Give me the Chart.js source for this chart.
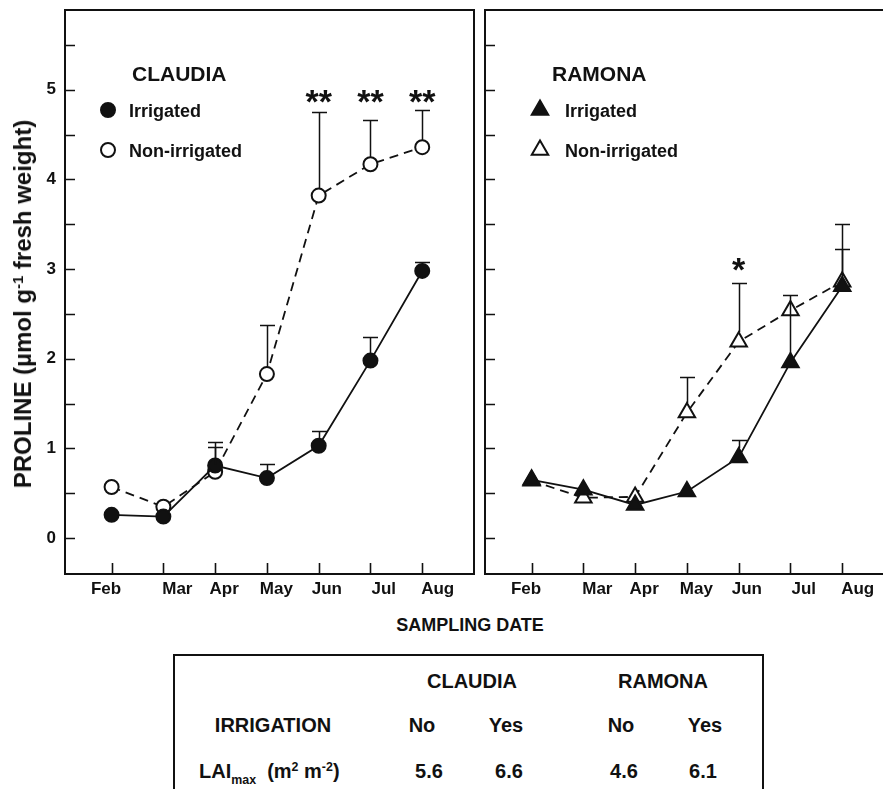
<!DOCTYPE html>
<html>
<head>
<meta charset="utf-8">
<script src="https://cdn.jsdelivr.net/npm/chart.js@4.4.0/dist/chart.umd.min.js"></script>
<style>
  html, body { margin: 0; padding: 0; width: 883px; height: 789px; overflow: hidden; background: #fff; }
  body { position: relative; font-family: 'Liberation Sans', Arial, Helvetica, sans-serif; font-weight: bold; color: #111; }
  canvas { position: absolute; top: 0; }
  #claudia { left: 0; }
  #ramona { left: 480px; }
  .ytitle { position: absolute; left: 23px; top: 304px; transform: translate(-50%, -50%) rotate(-90deg); white-space: nowrap; font-size: 24px; }
  .xtitle { position: absolute; left: 470px; top: 625px; transform: translate(-50%, -50%); white-space: nowrap; font-size: 18px; }
  .lai { position: absolute; left: 173px; top: 654px; width: 587px; height: 200px; border: 2px solid #111; }
  .cell { position: absolute; transform: translate(-50%, -50%); white-space: nowrap; font-size: 20px; }
  .cell.left { transform: translate(0, -50%); }
  sup { font-size: 0.62em; vertical-align: 0; position: relative; top: -0.55em; }
  sub { font-size: 0.62em; vertical-align: 0; position: relative; top: 0.45em; }
</style>
</head>
<body>
<canvas id="claudia" width="480" height="610"></canvas>
<canvas id="ramona" width="420" height="610"></canvas>
<div class="ytitle">PROLINE (&micro;mol g<sup>-1</sup> fresh weight)</div>
<div class="xtitle">SAMPLING DATE</div>
<div class="lai" id="lai"></div>
<script>
// Sampling months (one sample per month, evenly spaced on the axis)
const months = ['Feb', 'Mar', 'Apr', 'May', 'Jun', 'Jul', 'Aug'];
const yTickLabels = [0, 1, 2, 3, 4, 5];

// Proline content, µmol g-1 fresh weight
const claudiaIrrigated = [0.26, 0.24, 0.81, 0.67, 1.03, 1.98, 2.98];
const claudiaIrrigatedUpper = [null, null, 1.07, 0.83, 1.20, 2.24, 3.08];
const claudiaNonIrrigated = [0.57, 0.35, 0.74, 1.83, 3.82, 4.17, 4.36];
const claudiaNonIrrigatedUpper = [null, null, 1.02, 2.38, 4.75, 4.66, 4.78];
const claudiaSignificance = ['', '', '', '', '**', '**', '**'];

const ramonaIrrigated = [0.65, 0.54, 0.37, 0.52, 0.90, 1.96, 2.81];
const ramonaIrrigatedUpper = [null, null, null, 0.62, 1.09, 2.71, 3.23];
const ramonaNonIrrigated = [0.64, 0.45, 0.46, 1.40, 2.19, 2.54, 2.86];
const ramonaNonIrrigatedUpper = [null, null, null, 1.80, 2.84, null, 3.50];
const ramonaSignificance = ['', '', '', '', '*', '', ''];

// Maximum leaf area index table
const laiCultivars = ['CLAUDIA', 'RAMONA'];
const laiIrrigation = ['No', 'Yes', 'No', 'Yes'];
const laiMax = [5.6, 6.6, 4.6, 6.1];

const FONT = "'Liberation Sans', Arial, Helvetica, sans-serif";
const INK = '#111';

function points(values) {
  return values.map((v, i) => ({ x: i, y: v }));
}

// Frame, inward ticks, month labels, in-panel legend, error bars and stars
const panelDecor = {
  id: 'panelDecor',
  afterDatasetsDraw(chart, args, o) {
    const ctx = chart.ctx, xs = chart.scales.x, ys = chart.scales.y;
    ctx.save();
    ctx.strokeStyle = INK;
    ctx.lineWidth = 1.5;
    o.bars.forEach(b => {
      b.upper.forEach((u, i) => {
        if (u == null) return;
        const x = Math.round(xs.getPixelForValue(i)) + 0.5;
        const y0 = ys.getPixelForValue(b.values[i]) - b.gap;
        const y1 = Math.round(ys.getPixelForValue(u)) + 0.5;
        if (y1 >= y0) return;
        ctx.beginPath();
        ctx.moveTo(x, y0); ctx.lineTo(x, y1);
        ctx.moveTo(x - 7.5, y1); ctx.lineTo(x + 7.5, y1);
        ctx.stroke();
      });
    });
    // significance marks sit together above the tallest bar of their group
    const s = o.stars;
    let top = Infinity;
    s.marks.forEach((m, i) => { if (m && s.upper[i] != null) top = Math.min(top, ys.getPixelForValue(s.upper[i])); });
    ctx.fillStyle = INK;
    ctx.font = `bold 34px ${FONT}`;
    ctx.textAlign = 'center';
    ctx.textBaseline = 'alphabetic';
    s.marks.forEach((m, i) => {
      if (!m) return;
      ctx.fillText(m, xs.getPixelForValue(i), top + s.gap);
    });
    ctx.restore();
  },
  afterDraw(chart, args, o) {
    const ctx = chart.ctx, ca = chart.chartArea, xs = chart.scales.x, ys = chart.scales.y;
    ctx.save();
    ctx.strokeStyle = INK;
    ctx.lineWidth = 2;
    ctx.strokeRect(ca.left, ca.top, ca.right - ca.left, ca.bottom - ca.top);
    // inward y ticks every 0.5
    ctx.lineWidth = 1.6;
    ctx.beginPath();
    for (let v = 0; v <= 5.5 + 1e-9; v += 0.5) {
      const y = Math.round(ys.getPixelForValue(v)) + 0.5;
      ctx.moveTo(ca.left, y); ctx.lineTo(ca.left + 10, y);
    }
    // inward x ticks at every sampling month
    months.forEach((m, i) => {
      const x = Math.round(xs.getPixelForValue(i)) + 0.5;
      ctx.moveTo(x, ca.bottom); ctx.lineTo(x, ca.bottom - 11);
    });
    ctx.stroke();
    // month labels
    ctx.fillStyle = INK;
    ctx.font = `bold 17px ${FONT}`;
    ctx.textAlign = 'center';
    ctx.textBaseline = 'middle';
    months.forEach((m, i) => {
      ctx.fillText(m, xs.getPixelForValue(i) + o.labelShift[i], ca.bottom + 15);
    });
    // legend
    const lg = o.legend;
    ctx.textAlign = 'left';
    ctx.font = `bold 21px ${FONT}`;
    ctx.fillText(lg.title, ca.left + lg.titleX, lg.titleY);
    ctx.font = `bold 18px ${FONT}`;
    chart.data.datasets.forEach((ds, k) => {
      const y = lg.firstY + k * lg.rowGap;
      ctx.fillStyle = ds.pointBackgroundColor;
      ctx.strokeStyle = ds.pointBorderColor;
      ctx.lineWidth = ds.pointBorderWidth;
      Chart.helpers.drawPoint(ctx, { pointStyle: ds.pointStyle, radius: ds.pointRadius, rotation: 0, borderWidth: ds.pointBorderWidth }, ca.left + lg.markerX, y);
      ctx.fillStyle = INK;
      ctx.fillText(ds.label, ca.left + lg.textX, y + 2);
    });
    ctx.restore();
  }
};

function makePanel(id, cfg) {
  const series = (label, values, open, style, radius) => ({
    label,
    data: points(values),
    borderColor: INK,
    borderWidth: 1.8,
    borderDash: open ? [9, 6] : [],
    pointStyle: style,
    pointRadius: radius,
    pointBackgroundColor: open ? '#fff' : INK,
    pointBorderColor: INK,
    pointBorderWidth: 2,
    tension: 0
  });
  const noPad = s => { s.paddingTop = 0; s.paddingBottom = 0; s.paddingLeft = 0; s.paddingRight = 0; };
  return new Chart(document.getElementById(id), {
    type: 'line',
    data: {
      datasets: [
        series('Irrigated', cfg.irrigated, false, cfg.style, cfg.radius),
        series('Non-irrigated', cfg.nonIrrigated, true, cfg.style, cfg.radius)
      ]
    },
    options: {
      responsive: false,
      animation: false,
      events: [],
      layout: { autoPadding: false, padding: { top: 10, right: 6, left: 0, bottom: 0 } },
      scales: {
        x: {
          type: 'linear', min: -0.9, max: 7.0,
          grid: { display: false, drawTicks: false }, border: { display: false },
          ticks: { display: false },
          afterFit: s => { s.height = 36; noPad(s); }
        },
        y: {
          type: 'linear', min: -0.4, max: 5.89,
          grid: { display: false, drawTicks: false }, border: { display: false },
          afterBuildTicks: s => { s.ticks = yTickLabels.map(v => ({ value: v })); },
          ticks: {
            display: cfg.showY,
            padding: 9,
            color: INK,
            font: { family: FONT, size: 17, weight: 'bold' },
            callback: v => String(v)
          },
          afterFit: s => { s.width = cfg.axisWidth; noPad(s); }
        }
      },
      plugins: {
        legend: { display: false },
        tooltip: { enabled: false },
        panelDecor: {
          labelShift: [-5.5, 14, 9, 9.4, 8.2, 13.3, 15.5],
          legend: cfg.legend,
          bars: [
            { values: cfg.irrigated, upper: cfg.irrigatedUpper, gap: cfg.radius },
            { values: cfg.nonIrrigated, upper: cfg.nonIrrigatedUpper, gap: cfg.radius }
          ],
          stars: { marks: cfg.significance, upper: cfg.nonIrrigatedUpper, gap: cfg.starGap }
        }
      }
    },
    plugins: [panelDecor]
  });
}

makePanel('claudia', {
  irrigated: claudiaIrrigated, irrigatedUpper: claudiaIrrigatedUpper,
  nonIrrigated: claudiaNonIrrigated, nonIrrigatedUpper: claudiaNonIrrigatedUpper,
  significance: claudiaSignificance, starGap: 3,
  style: 'circle', radius: 7, showY: true, axisWidth: 65,
  legend: { title: 'CLAUDIA', titleX: 67, titleY: 75, markerX: 43, textX: 64, firstY: 110, rowGap: 40 }
});

makePanel('ramona', {
  irrigated: ramonaIrrigated, irrigatedUpper: ramonaIrrigatedUpper,
  nonIrrigated: ramonaNonIrrigated, nonIrrigatedUpper: ramonaNonIrrigatedUpper,
  significance: ramonaSignificance, starGap: -2,
  style: 'triangle', radius: 9.5, showY: false, axisWidth: 5,
  legend: { title: 'RAMONA', titleX: 67, titleY: 75, markerX: 55, textX: 80, firstY: 110, rowGap: 40 }
});

// LAImax table (positions relative to the box)
(function buildTable() {
  const box = document.getElementById('lai');
  const add = (html, x, y, cls) => {
    const d = document.createElement('div');
    d.className = 'cell' + (cls ? ' ' + cls : '');
    d.style.left = x + 'px';
    d.style.top = y + 'px';
    d.innerHTML = html;
    box.appendChild(d);
  };
  const headX = [297, 488];
  laiCultivars.forEach((c, i) => add(c, headX[i], 25));
  add('IRRIGATION', 98, 69);
  const colX = [247, 331, 446, 530];
  laiIrrigation.forEach((t, i) => add(t, colX[i], 69));
  add('LAI<sub>max</sub>&nbsp; (m<sup>2</sup> m<sup>-2</sup>)', 24, 115, 'left');
  const valX = [254, 334, 449, 528];
  laiMax.forEach((v, i) => add(v.toFixed(1), valX[i], 115));
})();
</script>
</body>
</html>
